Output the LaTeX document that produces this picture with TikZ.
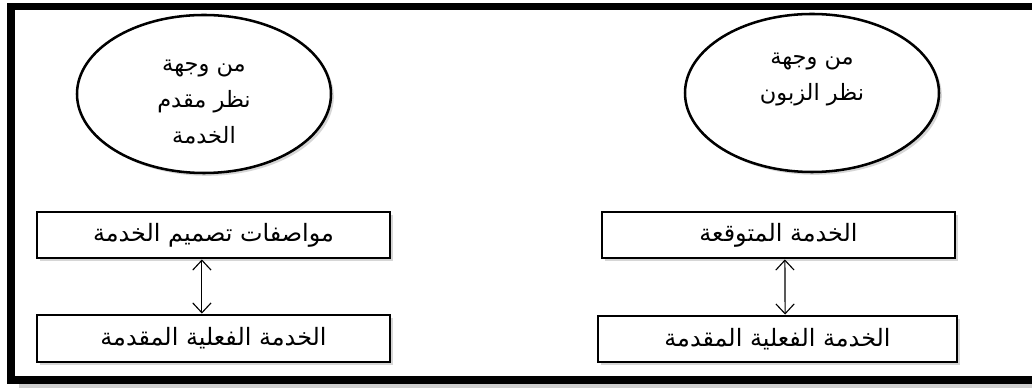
\documentclass[tikz,border=0pt]{standalone}
\usepackage{fontspec}
\newfontfamily\arabicfont[Script=Arabic]{DejaVu Sans}
\TeXXeTstate=1
\usepackage{xcolor}
\definecolor{frameblack}{RGB}{0, 0, 0}
\definecolor{shadowgray}{RGB}{120, 120, 120}
\usepackage{tikz}
\usetikzlibrary{shapes.geometric, arrows.meta, shadows}
\tikzset{
  % --- FRAME ---
  outer-frame/.style={
    draw=frameblack,
    line width=5pt,
    fill=white,
    drop shadow={shadow xshift=0.2cm, shadow yshift=-0.2cm,
      opacity=0.35, fill=shadowgray}
  },
  % --- VIEWPOINTS ---
  view-ellipse/.style={
    ellipse,
    draw=frameblack,
    line width=1.8pt,
    fill=white,
    minimum width=6.35cm,
    minimum height=3.95cm,
    font=\arabicfont\fontsize{16}{25.6}\selectfont,
    align=center,
    drop shadow={shadow xshift=2pt, shadow yshift=-2pt,
      opacity=0.3, fill=shadowgray}
  },
  % --- SERVICE BOXES ---
  service-box/.style={
    rectangle,
    draw=frameblack,
    line width=2pt,
    fill=white,
    minimum width=8.825cm,
    minimum height=1.15cm,
    font=\arabicfont\fontsize{17}{20}\selectfont,
    align=center,
    drop shadow={shadow xshift=2pt, shadow yshift=-2pt,
      opacity=0.3, fill=shadowgray}
  },
  % --- ARROWS ---
  gap-arrw/.style={
    draw=frameblack,
    line width=0.8pt,
    {Straight Barb[length=7pt, width=13pt]}-{Straight Barb[length=7pt, width=13pt]}
  },
}
\begin{document}
\begin{tikzpicture}

  \useasboundingbox (0, 0) rectangle (25.8, 9.7);
  % --- frame
  \draw[outer-frame] (0.275, 0.2) rectangle (26.6, 9.5375);
  % --- provider side (left)
  \node[view-ellipse, text height=71pt] (view-provider) at (5.1, 7.35)
    {\beginR من وجهة\endR\\ \beginR نظر مقدم\endR\\ \beginR الخدمة\endR};
  \node[service-box] (design-spec) at (5.3375, 3.825)
    {\beginR مواصفات تصميم الخدمة\endR};
  \node[service-box, minimum height=1.175cm] (actual-left) at (5.3375, 1.2375)
    {\beginR الخدمة الفعلية المقدمة\endR};
  % --- customer side (right)
  \node[view-ellipse, text height=15pt, text depth=5pt] (view-customer) at (20.3, 7.375)
    {\beginR من وجهة\endR\\ \beginR نظر الزبون\endR};
  \node[service-box] (expected) at (19.4625, 3.825)
    {\beginR الخدمة المتوقعة\endR};
  \node[service-box, minimum width=8.975cm] (actual-right) at (19.4375, 1.225)
    {\beginR الخدمة الفعلية المقدمة\endR};
  % --- arrows
  \draw[gap-arrw] ([xshift=-0.29cm]design-spec.south) -- ([xshift=-0.29cm]actual-left.north);
  \draw[gap-arrw] ([xshift=0.16cm]expected.south) -- ([xshift=0.19cm]actual-right.north);

\end{tikzpicture}
\end{document}
